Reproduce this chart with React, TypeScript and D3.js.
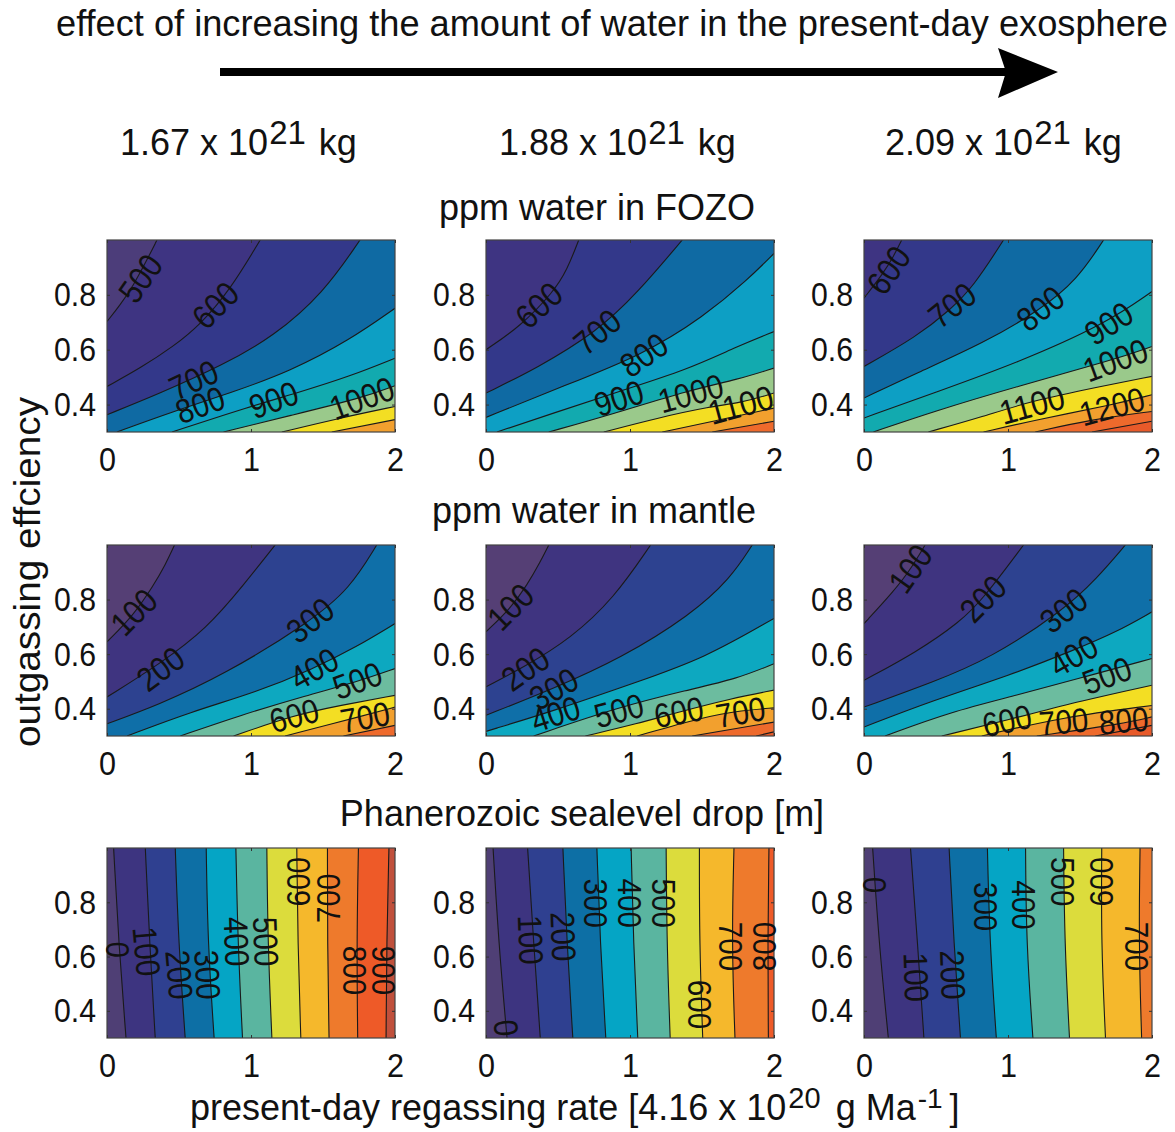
import * as d3 from "d3";
import { useEffect, useRef } from "react";

type Pt = [number, number];
type Contour = [number, Pt[]];
type Label = [number, number, number, number];

const xTicks = [0, 1, 2];
const yTicks = [0.4, 0.6, 0.8];

// contour lines: [level, [[regassing, outgassing], ...]]
const fozoA: Contour[] = [
  [500, [[0, 0.703], [0.092, 0.763], [0.185, 0.836], [0.277, 0.927], [0.347, 1]]],
  [600, [[0, 0.466], [0.231, 0.533], [0.462, 0.612], [0.647, 0.691], [0.855, 0.818], [1.064, 1]]],
  [700, [[0, 0.363], [0.347, 0.436], [0.809, 0.545], [1.156, 0.648], [1.503, 0.806], [1.757, 1]]],
  [800, [[0.069, 0.3], [0.462, 0.375], [0.855, 0.442], [1.272, 0.521], [1.688, 0.636], [2, 0.751]]],
  [900, [[0.451, 0.3], [0.994, 0.393], [1.318, 0.442], [1.688, 0.503], [2, 0.569]]],
  [1000, [[0.809, 0.3], [1.272, 0.36], [1.769, 0.424], [2, 0.469]]],
  [1100, [[1.214, 0.3], [1.618, 0.351], [2, 0.393]]],
  [1200, [[1.561, 0.3], [2, 0.345]]],
];
const fozoB: Contour[] = [
  [600, [[0, 0.6], [0.239, 0.685], [0.471, 0.812], [0.563, 0.891], [0.644, 1]]],
  [700, [[0, 0.442], [0.355, 0.533], [0.772, 0.666], [1.05, 0.806], [1.363, 1]]],
  [800, [[0, 0.353], [0.47, 0.454], [1.096, 0.582], [1.513, 0.721], [1.815, 0.854], [2, 0.951]]],
  [900, [[0.076, 0.3], [0.47, 0.369], [0.922, 0.448], [1.397, 0.527], [1.745, 0.612], [2, 0.666]]],
  [1000, [[0.436, 0.3], [0.864, 0.363], [1.421, 0.454], [1.745, 0.491], [2, 0.533]]],
  [1100, [[0.818, 0.3], [1.189, 0.351], [1.56, 0.393], [1.768, 0.406], [2, 0.442]]],
  [1200, [[1.224, 0.3], [1.629, 0.345], [2, 0.387]]],
  [1300, [[1.571, 0.3], [2, 0.339]]],
];
const fozoC: Contour[] = [
  [600, [[0, 0.788], [0.134, 0.879], [0.204, 0.939], [0.262, 1]]],
  [700, [[0, 0.539], [0.366, 0.648], [0.598, 0.745], [0.76, 0.83], [0.969, 1]]],
  [800, [[0, 0.424], [0.366, 0.515], [0.83, 0.624], [1.224, 0.745], [1.479, 0.854], [1.664, 1]]],
  [900, [[0, 0.351], [0.482, 0.442], [1.061, 0.551], [1.687, 0.697], [2, 0.812]]],
  [1000, [[0.065, 0.3], [0.482, 0.375], [1.061, 0.466], [1.733, 0.563], [2, 0.612]]],
  [1100, [[0.447, 0.3], [0.83, 0.357], [1.154, 0.412], [1.641, 0.466], [2, 0.503]]],
  [1200, [[0.83, 0.3], [1.2, 0.345], [1.733, 0.4], [2, 0.436]]],
  [1300, [[1.189, 0.3], [1.571, 0.345], [2, 0.375]]],
  [1400, [[1.583, 0.3], [2, 0.339]]],
];
const mantleA: Contour[] = [
  [100, [[0, 0.645], [0.185, 0.743], [0.324, 0.853], [0.405, 0.927], [0.469, 1]]],
  [200, [[0, 0.443], [0.37, 0.565], [0.694, 0.694], [0.948, 0.853], [1.168, 1]]],
  [300, [[0, 0.345], [0.347, 0.412], [0.809, 0.523], [1.41, 0.718], [1.688, 0.841], [1.873, 1]]],
  [400, [[0.139, 0.3], [0.578, 0.388], [1.04, 0.461], [1.434, 0.547], [1.734, 0.627], [2, 0.712]]],
  [500, [[0.509, 0.3], [0.925, 0.376], [1.387, 0.449], [1.734, 0.498], [2, 0.547]]],
  [600, [[0.879, 0.3], [1.295, 0.376], [1.618, 0.412], [2, 0.449]]],
  [700, [[1.237, 0.3], [1.792, 0.376], [2, 0.406]]],
  [800, [[1.642, 0.3], [2, 0.339]]],
];
const mantleB: Contour[] = [
  [100, [[0, 0.682], [0.169, 0.767], [0.285, 0.853], [0.378, 0.939], [0.436, 1]]],
  [200, [[0, 0.48], [0.285, 0.559], [0.586, 0.657], [0.888, 0.804], [1.143, 1]]],
  [300, [[0, 0.376], [0.47, 0.474], [0.934, 0.584], [1.421, 0.743], [1.699, 0.878], [1.849, 1]]],
  [400, [[0, 0.317], [0.482, 0.394], [1.05, 0.498], [1.513, 0.584], [2, 0.731]]],
  [500, [[0.331, 0.3], [0.922, 0.406], [1.397, 0.468], [1.745, 0.51], [2, 0.565]]],
  [600, [[0.69, 0.3], [1.05, 0.345], [1.339, 0.388], [1.699, 0.437], [2, 0.468]]],
  [700, [[1.05, 0.3], [1.513, 0.37], [1.78, 0.394], [2, 0.403]]],
  [800, [[1.432, 0.3], [2, 0.351]]],
  [900, [[1.877, 0.3], [2, 0.315]]],
];
const mantleC: Contour[] = [
  [100, [[0, 0.712], [0.204, 0.829], [0.32, 0.908], [0.424, 1]]],
  [200, [[0, 0.504], [0.366, 0.608], [0.667, 0.718], [0.83, 0.804], [1.108, 1]]],
  [300, [[0, 0.406], [0.482, 0.498], [0.876, 0.584], [1.386, 0.761], [1.618, 0.878], [1.815, 1]]],
  [400, [[0, 0.333], [0.482, 0.431], [1.015, 0.523], [1.455, 0.614], [1.757, 0.682], [2, 0.755]]],
  [500, [[0.146, 0.3], [0.598, 0.388], [1.061, 0.449], [1.525, 0.516], [2, 0.584]]],
  [600, [[0.54, 0.3], [0.992, 0.358], [1.525, 0.431], [2, 0.486]]],
  [700, [[0.818, 0.3], [1.386, 0.37], [2, 0.412]]],
  [800, [[1.2, 0.3], [1.803, 0.345], [2, 0.37]]],
  [900, [[1.606, 0.3], [2, 0.339]]],
];
const seaA: Contour[] = [
  [0, [[0.132, 0.3], [0.081, 0.65], [0.046, 1]]],
  [100, [[0.335, 0.3], [0.296, 0.65], [0.266, 1]]],
  [200, [[0.543, 0.3], [0.497, 0.65], [0.474, 1]]],
  [300, [[0.744, 0.3], [0.7, 0.65], [0.689, 1]]],
  [400, [[0.941, 0.3], [0.909, 0.65], [0.895, 1]]],
  [500, [[1.145, 0.3], [1.117, 0.65], [1.11, 1]]],
  [600, [[1.346, 0.3], [1.325, 0.65], [1.318, 1]]],
  [700, [[1.542, 0.3], [1.531, 0.65], [1.531, 1]]],
  [800, [[1.741, 0.3], [1.734, 0.65], [1.746, 1]]],
  [900, [[1.938, 0.3], [1.942, 0.65], [1.958, 1]]],
];
const seaB: Contour[] = [
  [0, [[0.146, 0.3], [0.088, 0.65], [0.049, 1]]],
  [100, [[0.377, 0.3], [0.331, 0.65], [0.289, 1]]],
  [200, [[0.603, 0.3], [0.562, 0.65], [0.534, 1]]],
  [300, [[0.832, 0.3], [0.793, 0.65], [0.77, 1]]],
  [400, [[1.054, 0.3], [1.024, 0.65], [1.008, 1]]],
  [500, [[1.279, 0.3], [1.256, 0.65], [1.251, 1]]],
  [600, [[1.505, 0.3], [1.482, 0.65], [1.482, 1]]],
  [700, [[1.729, 0.3], [1.706, 0.65], [1.722, 1]]],
  [800, [[1.961, 0.3], [1.956, 0.65], [1.965, 1]]],
];
const seaC: Contour[] = [
  [0, [[0.169, 0.3], [0.104, 0.65], [0.06, 1]]],
  [100, [[0.416, 0.3], [0.372, 0.65], [0.323, 1]]],
  [200, [[0.67, 0.3], [0.624, 0.65], [0.591, 1]]],
  [300, [[0.919, 0.3], [0.873, 0.65], [0.857, 1]]],
  [400, [[1.173, 0.3], [1.127, 0.65], [1.122, 1]]],
  [500, [[1.427, 0.3], [1.393, 0.65], [1.386, 1]]],
  [600, [[1.677, 0.3], [1.647, 0.65], [1.651, 1]]],
  [700, [[1.928, 0.3], [1.908, 0.65], [1.917, 1]]],
];

// inline contour labels: [level, x, y, angle]
const fozoALabels: Label[] = [[500, 0.231, 0.861, -55], [600, 0.751, 0.763, -45], [700, 0.601, 0.491, -25], [800, 0.647, 0.4, -20], [900, 1.156, 0.418, -20], [1000, 1.769, 0.424, -20]];
const fozoBLabels: Label[] = [[600, 0.366, 0.763, -42], [700, 0.772, 0.666, -40], [800, 1.096, 0.582, -35], [900, 0.922, 0.424, -18], [1000, 1.421, 0.442, -15], [1100, 1.768, 0.4, -15]];
const fozoCLabels: Label[] = [[600, 0.169, 0.891, -55], [700, 0.61, 0.763, -38], [800, 1.224, 0.751, -38], [900, 1.699, 0.697, -33], [1000, 1.745, 0.563, -20], [1100, 1.166, 0.4, -15], [1200, 1.722, 0.394, -15]];
const mantleALabels: Label[] = [[100, 0.185, 0.755, -45], [200, 0.37, 0.547, -37], [300, 1.41, 0.725, -38], [400, 1.438, 0.547, -30], [500, 1.739, 0.504, -20], [600, 1.299, 0.376, -15], [700, 1.792, 0.37, -10]];
const mantleBLabels: Label[] = [[100, 0.169, 0.774, -45], [200, 0.273, 0.547, -35], [300, 0.47, 0.474, -30], [400, 0.482, 0.382, -18], [500, 0.922, 0.394, -15], [600, 1.339, 0.388, -10], [700, 1.768, 0.388, -10]];
const mantleCLabels: Label[] = [[100, 0.32, 0.914, -55], [200, 0.825, 0.804, -45], [300, 1.386, 0.761, -38], [400, 1.455, 0.596, -30], [500, 1.687, 0.523, -20], [600, 0.992, 0.357, -12], [700, 1.386, 0.354, -5], [800, 1.803, 0.357, -5]];
const seaALabels: Label[] = [[0, 0.081, 0.625, 90], [100, 0.277, 0.619, 85], [200, 0.504, 0.533, 85], [300, 0.7, 0.533, 87], [400, 0.902, 0.655, 88], [500, 1.105, 0.655, 88], [600, 1.323, 0.876, -90], [700, 1.531, 0.815, -90], [800, 1.723, 0.549, 90], [900, 1.924, 0.549, 90]];
const seaBLabels: Label[] = [[0, 0.141, 0.337, 85], [100, 0.312, 0.662, 88], [200, 0.539, 0.674, 88], [300, 0.765, 0.796, 90], [400, 1.001, 0.796, 90], [500, 1.237, 0.796, 90], [600, 1.491, 0.423, 90], [700, 1.706, 0.637, 90], [800, 1.926, 0.637, -90]];
const seaCLabels: Label[] = [[0, 0.076, 0.864, 90], [100, 0.365, 0.524, 88], [200, 0.619, 0.533, 88], [300, 0.85, 0.784, 90], [400, 1.115, 0.79, 90], [500, 1.381, 0.876, 90], [600, 1.647, 0.876, -90], [700, 1.901, 0.637, 90]];

const fozoColor = d3.scaleThreshold<number, string>(
  [500, 600, 700, 800, 900, 1000, 1100, 1200, 1300, 1400],
  ["#4c3d7a", "#3e3482", "#33388a", "#0f6aa3", "#0d9fc4", "#12aaaf", "#9ac98b", "#f3de23", "#f2a02e", "#ee6a2c", "#e85a2a"]
);
const mantleColor = d3.scaleThreshold<number, string>(
  [100, 200, 300, 400, 500, 600, 700, 800, 900],
  ["#553f75", "#3f3480", "#2d4290", "#0f6fa8", "#0da8c0", "#6cbc9f", "#f3de23", "#f2a02e", "#ee6a2c", "#e85a2a"]
);
const seaColor = d3.scaleThreshold<number, string>(
  [0, 100, 200, 300, 400, 500, 600, 700, 800, 900],
  ["#4f3f75", "#3d3480", "#2f4090", "#0d6fa5", "#05a5c5", "#5ab5a0", "#dcdc3c", "#f5b82c", "#ee7a2c", "#ee5a28", "#c0503c"]
);

const FONT = "'Liberation Sans', Arial, sans-serif";
const panelW = 288;

function Panel({ id, left, top, height, contours, labels, color }) {
  const gBottom = useRef(null);
  const gLeft = useRef(null);
  const gTop = useRef(null);
  const gRight = useRef(null);

  const x = d3.scaleLinear([0, 2], [0, panelW]);
  const y = d3.scaleLinear([0.3, 1], [height, 0]);

  const line = d3
    .line<Pt>()
    .x((d) => x(d[0]))
    .y((d) => y(d[1]))
    .curve(d3.curveBasis);

  // everything on the high-value side of a contour, painted low level first
  const region = (pts: Pt[]) => {
    const first = pts[0];
    const last = pts[pts.length - 1];
    const corners: Pt[] = [];
    if (last[1] >= 1) corners.push([2, 1]);
    corners.push([2, 0.3]);
    if (first[0] <= 0) corners.push([0, 0.3]);
    return line(pts) + corners.map((c) => `L${x(c[0])},${y(c[1])}`).join("") + "Z";
  };

  useEffect(() => {
    const style = (g) => {
      g.select(".domain").remove();
      g.attr("font-size", 34).attr("font-family", FONT);
      g.selectAll("line").attr("stroke", "#333");
      g.selectAll("text")
        .attr("fill", "#111")
        .attr("lengthAdjust", "spacingAndGlyphs");
    };
    d3.select(gBottom.current)
      .call(d3.axisBottom(x).tickValues(xTicks).tickSizeOuter(0).tickSizeInner(-3).tickPadding(15).tickFormat(d3.format("d")))
      .call(style)
      .selectAll("text")
      .attr("textLength", 17);
    d3.select(gLeft.current)
      .call(d3.axisLeft(y).tickValues(yTicks).tickSizeOuter(0).tickSizeInner(-3).tickPadding(11).tickFormat(d3.format(".1f")))
      .call(style)
      .selectAll("text")
      .attr("textLength", 42);
    d3.select(gTop.current).call(d3.axisTop(x).tickValues(xTicks).tickSizeOuter(0).tickSizeInner(-3).tickFormat(() => "")).call(style);
    d3.select(gRight.current).call(d3.axisRight(y).tickValues(yTicks).tickSizeOuter(0).tickSizeInner(-3).tickFormat(() => "")).call(style);
  }, [height]);

  return (
    <g transform={`translate(${left},${top})`}>
      <clipPath id={id}>
        <rect width={panelW} height={height} />
      </clipPath>
      <g clipPath={`url(#${id})`}>
        <rect width={panelW} height={height} fill={color(contours[0][0] - 1)} />
        {contours.map(([level, pts]) => (
          <path key={level} d={region(pts)} fill={color(level)} />
        ))}
        {contours.map(([level, pts]) => (
          <path key={level} d={line(pts)} fill="none" stroke="#1a1a1a" strokeWidth={1.1} />
        ))}
      </g>
      <rect width={panelW} height={height} fill="none" stroke="#444" strokeWidth={1.2} />
      <g ref={gBottom} transform={`translate(0,${height})`} />
      <g ref={gLeft} />
      <g ref={gTop} />
      <g ref={gRight} transform={`translate(${panelW},0)`} />
      {labels.map(([level, lx, ly, angle]) => (
        <text
          key={level}
          transform={`translate(${x(lx)},${y(ly)}) rotate(${angle})`}
          textAnchor="middle"
          dy="0.36em"
          fontSize={34}
          textLength={String(level).length * 16.5}
          lengthAdjust="spacingAndGlyphs"
          fill="#111"
        >
          {level}
        </text>
      ))}
    </g>
  );
}

const columns = [107, 486, 864];
const rows = [
  { top: 240, height: 192, color: fozoColor, contours: [fozoA, fozoB, fozoC], labels: [fozoALabels, fozoBLabels, fozoCLabels] },
  { top: 545, height: 191, color: mantleColor, contours: [mantleA, mantleB, mantleC], labels: [mantleALabels, mantleBLabels, mantleCLabels] },
  { top: 848, height: 190, color: seaColor, contours: [seaA, seaB, seaC], labels: [seaALabels, seaBLabels, seaCLabels] },
];
const waterMass = [
  { text: "1.67", x: 120 },
  { text: "1.88", x: 499 },
  { text: "2.09", x: 885 },
];
const rowTitles = [
  { text: "ppm water in FOZO", x: 597, y: 220 },
  { text: "ppm water in mantle", x: 594, y: 523 },
  { text: "Phanerozoic sealevel drop [m]", x: 582, y: 826 },
];

export default function App() {
  return (
    <svg
      width={1175}
      height={1132}
      style={{ position: "absolute", left: 0, top: 0, background: "#fff" }}
      fontFamily={FONT}
      fill="#111"
    >
      <text x={56} y={36} fontSize={36} textLength={1112} lengthAdjust="spacingAndGlyphs">
        effect of increasing the amount of water in the present-day exosphere
      </text>
      <rect x={220} y={68} width={790} height={8} fill="#000" />
      <path d="M998,48L1058,72L998,98L1006,72Z" fill="#000" />

      {waterMass.map((m) => (
        <text key={m.text} x={m.x} y={155} fontSize={36}>
          {m.text} x 10
          <tspan dy={-11} dx={1} fontSize={33}>21</tspan>
          <tspan dy={11} dx={3}> kg</tspan>
        </text>
      ))}
      {rowTitles.map((t) => (
        <text key={t.text} x={t.x} y={t.y} fontSize={36} textAnchor="middle">
          {t.text}
        </text>
      ))}

      {rows.map((r, i) =>
        columns.map((left, j) => (
          <Panel
            key={`${i}-${j}`}
            id={`clip-${i}-${j}`}
            left={left}
            top={r.top}
            height={r.height}
            contours={r.contours[j]}
            labels={r.labels[j]}
            color={r.color}
          />
        ))
      )}

      <text
        transform="translate(40,572) rotate(-90)"
        fontSize={37}
        textAnchor="middle"
        textLength={350}
        lengthAdjust="spacingAndGlyphs"
      >
        outgassing effciency
      </text>
      <text x={190} y={1120} fontSize={36}>
        present-day regassing rate [4.16 x 10
        <tspan dy={-12} dx={2} fontSize={29}>20</tspan>
        <tspan dy={12} dx={5}> g Ma</tspan>
        <tspan dy={-12} dx={2} fontSize={28}>-1</tspan>
        <tspan dy={12} dx={7}>]</tspan>
      </text>
    </svg>
  );
}
